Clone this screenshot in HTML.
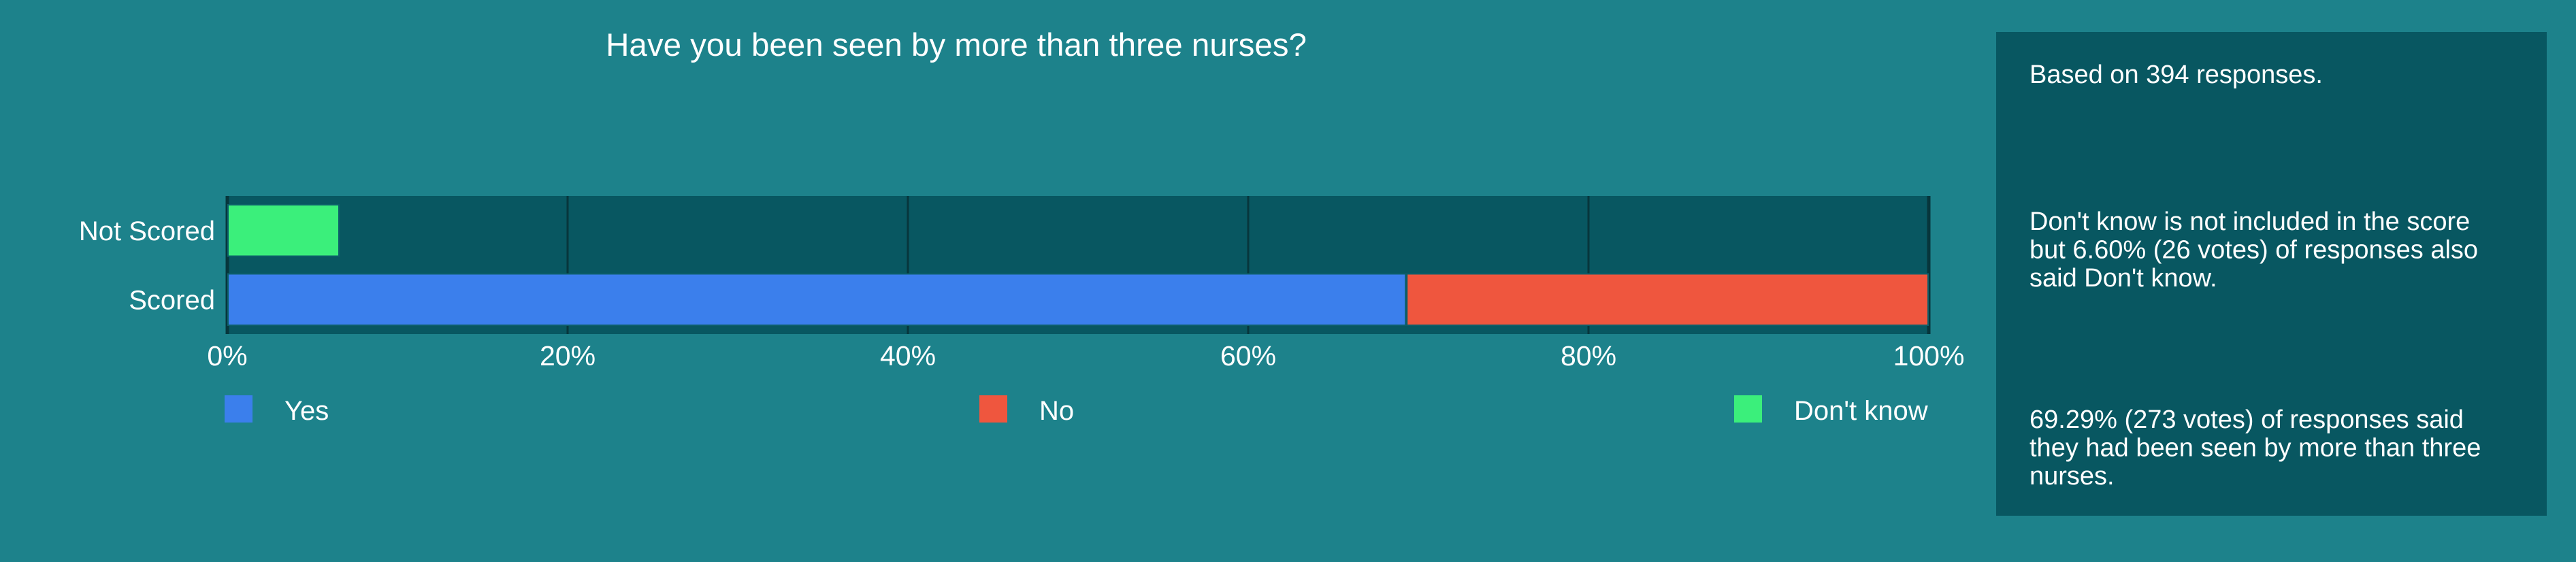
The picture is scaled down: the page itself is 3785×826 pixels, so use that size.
<!DOCTYPE html>
<html><head><meta charset="utf-8"><style>
html,body{margin:0;padding:0;background:#1d828b;}
svg{display:block;font-family:"Liberation Sans",sans-serif;}
</style></head><body>
<svg id="chart" width="3785" height="826" viewBox="0 0 3785 826" xmlns="http://www.w3.org/2000/svg">
<rect x="0" y="0" width="3785" height="826" fill="#1d828b"/>
<text x="1405" y="82" font-size="47.5" fill="#fff" text-anchor="middle">Have you been seen by more than three nurses?</text>
<rect x="332" y="288" width="2502" height="203" fill="#085761"/>
<g id="grid"></g>
<g id="bars"></g>
<g id="yl"></g>
<g id="xl"></g>
<g id="legend"></g>
<rect x="2933" y="47" width="809" height="711" fill="#085761"/>
<g font-size="38" fill="#fff">
<text x="2982" y="122">Based on 394 responses.</text>
<text x="2982" y="338"><tspan x="2982">Don't know is not included in the score</tspan><tspan x="2982" dy="41.5">but 6.60% (26 votes) of responses also</tspan><tspan x="2982" dy="41.5">said Don't know.</tspan></text>
<text x="2982" y="629"><tspan x="2982">69.29% (273 votes) of responses said</tspan><tspan x="2982" dy="41.5">they had been seen by more than three</tspan><tspan x="2982" dy="41.5">nurses.</tspan></text>
</g>
</svg>
<script>
const categories = ["Not Scored", "Scored"];
const seriesNames = ["Yes", "No", "Don't know"];
const yesValues = [0, 69.29];
const noValues = [0, 30.71];
const dontKnowValues = [6.60, 0];
const xTicks = [0, 20, 40, 60, 80, 100];
const xTickLabels = ["0%", "20%", "40%", "60%", "80%", "100%"];
const colors = ["#3b7fec", "#ef563e", "#3bef7b"];

const NS = "http://www.w3.org/2000/svg";
const X0 = 334, X1 = 2834, TOP = 288, BOT = 491;
const x = v => X0 + (v / 100) * (X1 - X0);
const bandH = (BOT - TOP) / categories.length;
const yBand = i => TOP + i * bandH;
function mk(tag, attrs, parent){const e=document.createElementNS(NS,tag);for(const k in attrs)e.setAttribute(k,attrs[k]);parent.appendChild(e);return e;}

const grid = document.getElementById('grid');
xTicks.forEach((t,i)=>{
  const l = mk('line',{x1:x(t),x2:x(t),y1:TOP,y2:BOT,stroke:'#07363c','stroke-width':(i===0||i===xTicks.length-1)?5:3},grid);
  
  
});

const bars = document.getElementById('bars');
const series = [yesValues, noValues, dontKnowValues];
categories.forEach((c,ci)=>{
  let acc = 0;
  series.forEach((s,si)=>{
    const v = s[ci];
    if(v<=0) return;
    const r = mk('rect',{x:x(acc)+1,y:yBand(ci)+13,width:x(acc+v)-x(acc)-2,height:bandH-26,fill:colors[si],stroke:'#0d5f6a','stroke-width':2},bars);
    
    
    acc += v;
  });
});

const yl = document.getElementById('yl');
categories.forEach((c,ci)=>{
  const t = mk('text',{x:316,y:yBand(ci)+bandH/2+14,'font-size':40,fill:'#fff','text-anchor':'end'},yl);
  t.textContent = c;
  
  
});

const xl = document.getElementById('xl');
xTicks.forEach((t,i)=>{
  const e = mk('text',{x:x(t),y:537,'font-size':41,fill:'#fff','text-anchor':'middle'},xl);
  e.textContent = xTickLabels[i];
  
  
});

const lg = document.getElementById('legend');
const legX = [330, 1439, 2548];
seriesNames.forEach((n,i)=>{
  const g = mk('g',{},lg);
  
  
  mk('rect',{x:legX[i],y:581,width:41,height:40,fill:colors[i]},g);
  const t = mk('text',{x:legX[i]+88,y:617,'font-size':40,fill:'#fff'},g);
  t.textContent = n;
});
</script>
</body></html>
